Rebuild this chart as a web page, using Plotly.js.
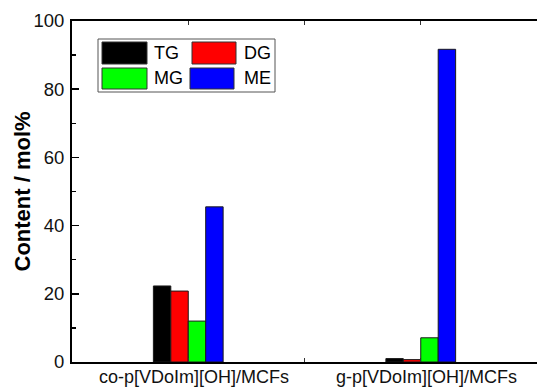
<!DOCTYPE html>
<html>
<head>
<meta charset="utf-8">
<script src="https://cdn.plot.ly/plotly-3.0.1.min.js"></script>
<style>html,body{margin:0;padding:0;background:#fff;}#chart{width:537px;height:387px;}</style>
</head>
<body>
<div id="chart"></div>
<script>
var categories = ["co-p[VDoIm][OH]/MCFs", "g-p[VDoIm][OH]/MCFs"];
var seriesNames = ["TG", "DG", "MG", "ME"];
var seriesColors = ["#000000", "#ff0000", "#00ff00", "#0000ff"];
var TG = [22.3, 1.0];
var DG = [20.8, 0.7];
var MG = [12.0, 7.1];
var ME = [45.5, 91.7];
var yTicks = [0, 20, 40, 60, 80, 100];
var yTitle = "Content / mol%";

var FONT = "Arial, 'Liberation Sans', sans-serif";
var seriesValues = [TG, DG, MG, ME];
var xIdx = categories.map(function (c, i) { return i; });

var traces = seriesValues.map(function (vals, k) {
  return {
    type: "bar",
    name: seriesNames[k],
    x: xIdx,
    y: vals,
    marker: { color: seriesColors[k], line: { color: "#1a1a1a", width: 1 } },
    showlegend: false,
    hoverinfo: "none"
  };
});

// custom legend (pixel layout converted to paper coords)
var L = 72, T = 21, W = 465, H = 341;
function px(x) { return (x - L) / W; }
function py(y) { return (T + H - y) / H; }
var shapes = [{
  type: "rect", xref: "paper", yref: "paper",
  x0: px(98), x1: px(275), y0: py(92), y1: py(39),
  line: { color: "#555555", width: 1 }, fillcolor: "#ffffff", layer: "above"
}];
var annotations = [];
var swX = [[102, 147], [192, 236], [102, 147], [190, 234]];
var swY = [[42, 64], [42, 64], [68, 89], [68, 89]];
var txX = [152, 242, 152, 242];
seriesNames.forEach(function (n, k) {
  shapes.push({
    type: "rect", xref: "paper", yref: "paper",
    x0: px(swX[k][0]), x1: px(swX[k][1]), y0: py(swY[k][1]), y1: py(swY[k][0]),
    line: { color: "#333333", width: 1 }, fillcolor: seriesColors[k], layer: "above"
  });
  annotations.push({
    xref: "paper", yref: "paper", x: px(txX[k]), y: py((swY[k][0] + swY[k][1]) / 2),
    xanchor: "left", yanchor: "middle", text: n, showarrow: false,
    font: { family: FONT, size: 18, color: "#000" }
  });
});
// category labels under the axis
categories.forEach(function (c, i) {
  annotations.push({
    xref: "x", yref: "paper", x: i, y: 0, xshift: 6, yshift: -15,
    xanchor: "center", yanchor: "middle", text: c, showarrow: false,
    font: { family: FONT, size: 18, color: "#111" }
  });
});
// y-axis title
annotations.push({
  xref: "paper", yref: "paper", x: px(22), y: 0.5, textangle: -90,
  xanchor: "center", yanchor: "middle", text: "<b>" + yTitle + "</b>", showarrow: false,
  font: { family: FONT, size: 22, color: "#000" }
});

var layout = {
  width: 537, height: 387,
  margin: { l: 72, r: 0, t: 21, b: 25 },
  paper_bgcolor: "#ffffff", plot_bgcolor: "#ffffff",
  font: { family: FONT, color: "#000" },
  barmode: "group", bargap: 0.7, bargroupgap: 0,
  xaxis: {
    range: [-0.5, 1.5], tickvals: xIdx, showticklabels: false,
    showgrid: false, zeroline: false,
    showline: true, linecolor: "#000", linewidth: 2, mirror: "ticks",
    ticks: "inside", ticklen: 4, tickwidth: 1, tickcolor: "#333",
    minor: { tickvals: [0.5], ticks: "inside", ticklen: 4, tickwidth: 1, tickcolor: "#333", showgrid: false },
    fixedrange: true
  },
  yaxis: {
    range: [0, 100], tickvals: yTicks,
    showgrid: false, zeroline: false,
    showline: true, linecolor: "#000", linewidth: 2, mirror: false,
    ticks: "inside", ticklen: 7, tickwidth: 1.5, tickcolor: "#000",
    minor: { dtick: 10, ticks: "inside", ticklen: 4, tickwidth: 1.5, tickcolor: "#000", showgrid: false },
    tickfont: { size: 18.5, color: "#111" }, ticklabelstandoff: 2,
    fixedrange: true
  },
  shapes: shapes,
  annotations: annotations
};

Plotly.newPlot("chart", traces, layout, { displayModeBar: false, staticPlot: true });
</script>
</body>
</html>
